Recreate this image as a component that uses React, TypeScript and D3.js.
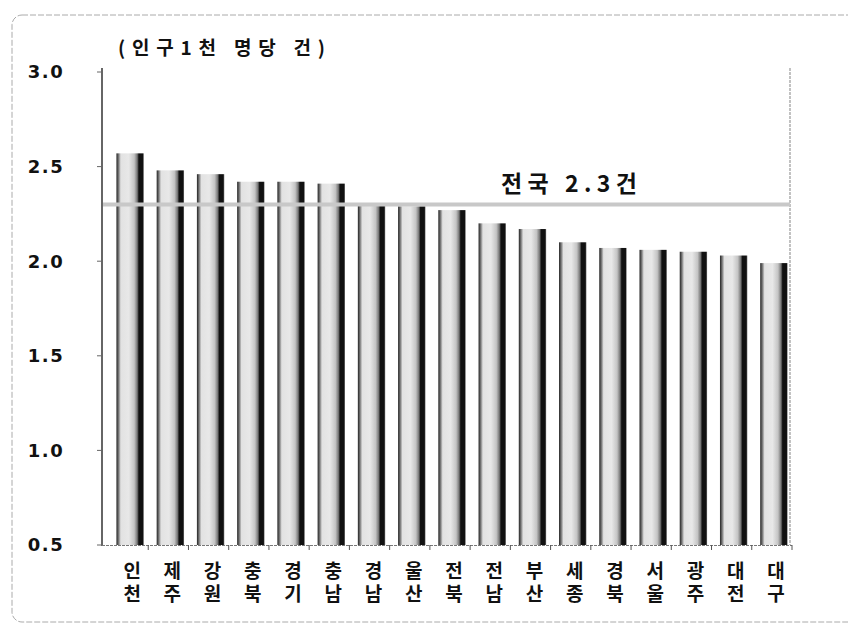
import React from "react";
import * as d3 from "d3";

const regions = ["인천", "제주", "강원", "충북", "경기", "충남", "경남", "울산", "전북", "전남", "부산", "세종", "경북", "서울", "광주", "대전", "대구"];
const rates = [2.57, 2.48, 2.46, 2.42, 2.42, 2.41, 2.3, 2.29, 2.27, 2.2, 2.17, 2.1, 2.07, 2.06, 2.05, 2.03, 1.99];
const yTicks = [0.5, 1.0, 1.5, 2.0, 2.5, 3.0];
const nationalAvg = 2.3;
const nationalLabel = "전국 2.3건";
const unitLabel = "(인구1천 명당 건)";

const W = 848;
const H = 627;
const KR = "'Noto Sans CJK KR', 'Noto Sans', sans-serif";
const KR_TIGHT = "'DejaVu Sans', 'Noto Sans CJK KR', sans-serif";

export default function App() {
  const x = d3.scaleBand<string>().domain(regions).range([108, 792]).paddingInner(0.32).paddingOuter(0.16);
  const y = d3.scaleLinear().domain([0.5, 3.0]).range([545, 72]);
  const bounds = d3.range(regions.length + 1).map((i) => 108 + i * ((792 - 108) / regions.length));

  return (
    <svg width={W} height={H} style={{ position: "absolute", left: 0, top: 0, background: "#fff" }}>
      <defs>
        <linearGradient id="barGrad" x1="0" x2="1" y1="0" y2="0">
          <stop offset="0" stopColor="#222" />
          <stop offset="0.08" stopColor="#777" />
          <stop offset="0.16" stopColor="#e2e2e2" />
          <stop offset="0.45" stopColor="#e8e8e8" />
          <stop offset="0.65" stopColor="#c4c4c4" />
          <stop offset="0.76" stopColor="#777" />
          <stop offset="0.82" stopColor="#111" />
          <stop offset="0.96" stopColor="#111" />
          <stop offset="1" stopColor="#777" />
        </linearGradient>
      </defs>

      {/* outer frame */}
      <rect x={12} y={15} width={860} height={607} rx={10} fill="none" stroke="#aaa" strokeWidth={1} strokeDasharray="6 2" />

      {/* unit label */}
      <text x={118} y={55} fontFamily={KR} fontWeight="bold" fontSize={19} textLength={207} lengthAdjust="spacing" fill="#111">
        {unitLabel}
      </text>

      {/* y tick labels */}
      {yTicks.map((t) => (
        <g key={t}>
          <text
            x={46}
            y={y(t)}
            dy="0.36em"
            textAnchor="middle"
            fontFamily="'DejaVu Sans', sans-serif"
            fontWeight="bold"
            fontSize={18}
            letterSpacing={1.5}
            fill="#111"
          >
            {d3.format(".1f")(t)}
          </text>
          <line x1={97} x2={101} y1={y(t)} y2={y(t)} stroke="#666" strokeWidth={1} />
        </g>
      ))}

      {/* plot right border */}
      <line x1={790} x2={790} y1={68} y2={545} stroke="#999" strokeWidth={1.2} strokeDasharray="3 1" />

      {/* bars */}
      {regions.map((r, i) => (
        <rect
          key={r}
          x={(x(r) as number) + 2}
          y={y(rates[i])}
          width={x.bandwidth()}
          height={y(0.5) - y(rates[i])}
          fill="url(#barGrad)"
        />
      ))}

      {/* national average line */}
      <line x1={103} x2={790} y1={y(nationalAvg)} y2={y(nationalAvg)} stroke="#c8c8c8" strokeWidth={4} />
      <text x={501} y={192} fontFamily={KR} fontWeight="bold" fontSize={23} textLength={136} lengthAdjust="spacing" fill="#111">
        {nationalLabel}
      </text>

      {/* axes */}
      <line x1={102} x2={102} y1={68} y2={546} stroke="#333" strokeWidth={1.5} />
      <line x1={102} x2={792} y1={545.5} y2={545.5} stroke="#777" strokeWidth={1} strokeDasharray="3 1" />
      {bounds.slice(1).map((b, i) => (
        <line key={i} x1={b} x2={b} y1={545} y2={550} stroke="#555" strokeWidth={1} />
      ))}

      {/* category labels (two stacked syllables) */}
      {regions.map((r) => {
        const cx = (x(r) as number) + x.bandwidth() / 2 + 4;
        return (
          <g key={r}>
            <text x={cx} y={578} textAnchor="middle" fontFamily={KR_TIGHT} fontWeight="bold" fontSize={19} fill="#111">
              {r[0]}
            </text>
            <text x={cx} y={601} textAnchor="middle" fontFamily={KR_TIGHT} fontWeight="bold" fontSize={19} fill="#111">
              {r[1]}
            </text>
          </g>
        );
      })}
    </svg>
  );
}
